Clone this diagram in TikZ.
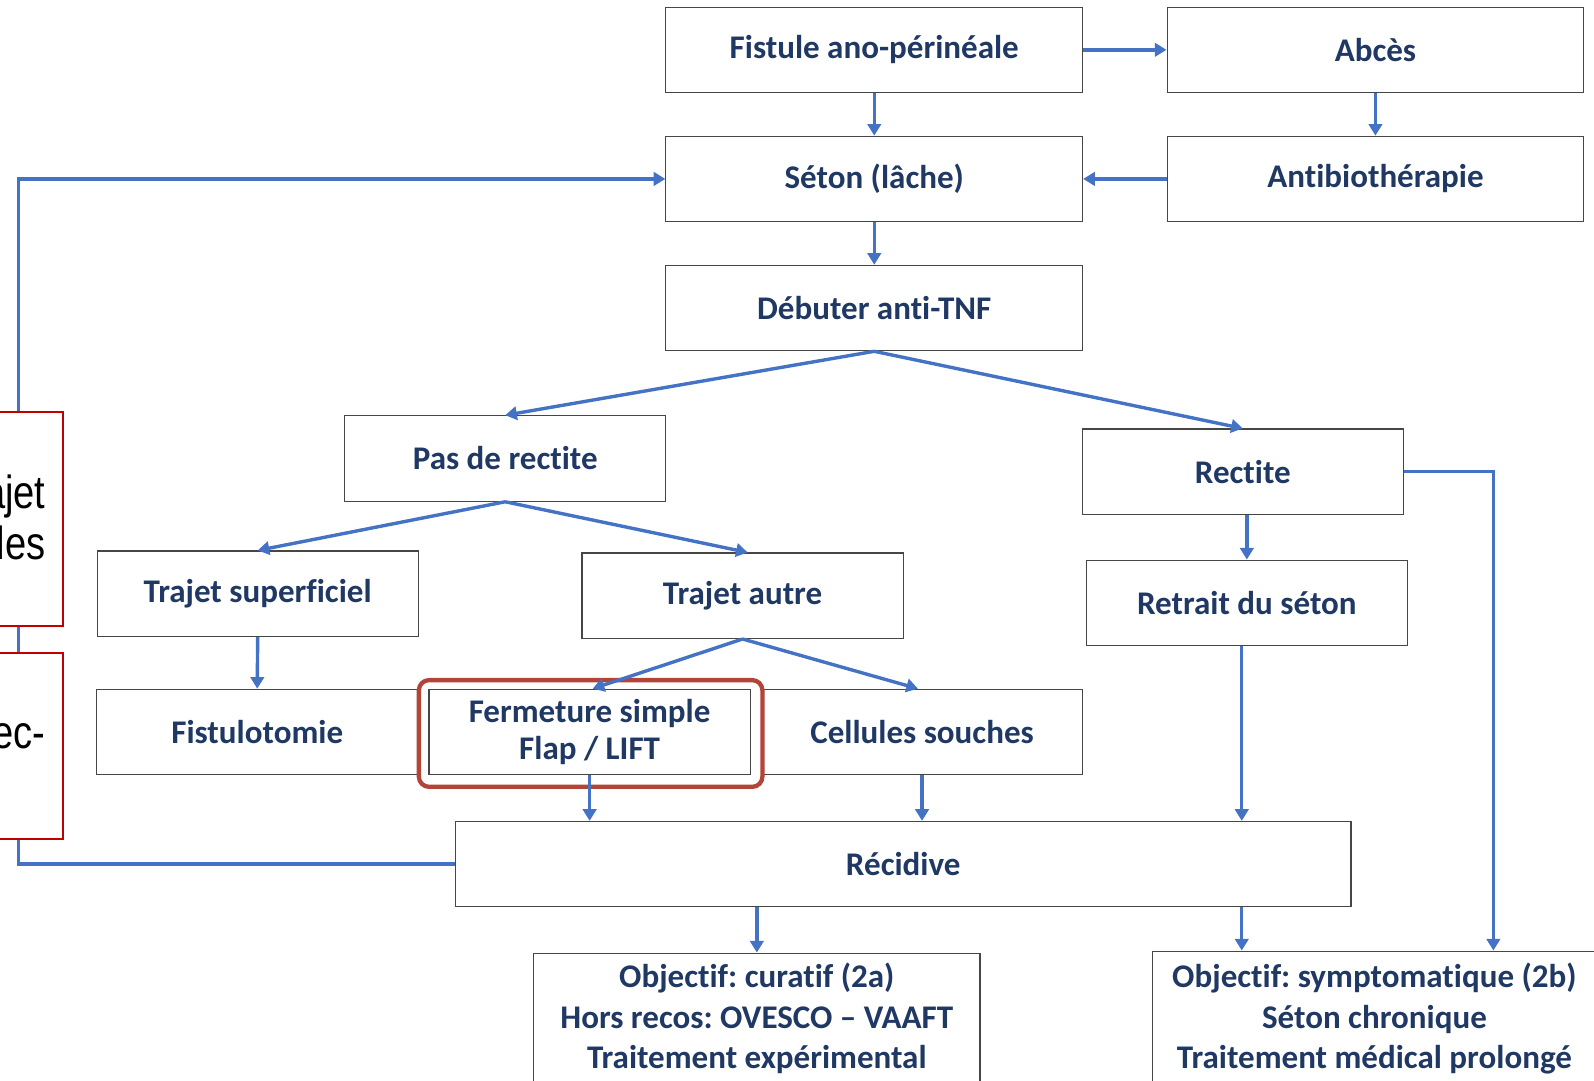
\documentclass[tikz,border=0pt]{standalone}
\usepackage{fontspec}
\setmainfont{Carlito}[Ligatures={NoCommon}]
\newfontfamily\sidefont{Liberation Sans}
\usetikzlibrary{arrows.meta}
\definecolor{arrowblue}{RGB}{68,114,196}
\definecolor{navy}{RGB}{31,56,100}
\definecolor{boxgray}{RGB}{70,70,70}
\definecolor{hlred}{RGB}{178,68,56}
\definecolor{sidered}{RGB}{192,0,0}
\frenchspacing
\tikzset{
  x=0.02cm, y=-0.02cm,
  box/.style={draw=boxgray, line width=0.65pt, fill=white, minimum height=1.68cm, inner sep=0pt,
    text=navy, font=\fontsize{18.5}{22}\selectfont\bfseries, align=center},
  wide/.style={minimum width=8.2cm},
  mid/.style={minimum width=6.32cm},
  conn/.style={draw=arrowblue, line width=1.9pt, -{Triangle[length=6.5pt,width=7.5pt]}},
  hl/.style={draw=hlred, line width=2.4pt, rounded corners=0.2cm, minimum width=6.76cm, minimum height=2.1cm, inner sep=0pt},
  side/.style={draw=sidered, line width=1.3pt, fill=white, inner sep=0pt},
  sidetext/.style={font=\sidefont\fontsize{26}{30}\selectfont, text=black, inner sep=0pt, xscale=0.82},
  objtext/.style={text=navy, font=\fontsize{18.5}{22.6}\selectfont\bfseries, align=center, inner sep=0pt},
}
\begin{document}
\begin{tikzpicture}
\useasboundingbox (0,0) rectangle (1568,1063);
\clip (0,0) rectangle (1568,1063);
% boxes
\node[box, wide] (fist) at (860,49) {Fistule ano-périnéale};
\node[box, wide] (abc) at (1353,49) {Abcès};
\node[box, wide] (seton) at (860,176) {Séton (lâche)};
\node[box, wide] (anti) at (1353,176) {Antibiothérapie};
\node[box, wide] (deb) at (860,303) {Débuter anti-TNF};
\node[box, mid] (pas) at (497,451) {Pas de rectite};
\node[box, mid] (rect) at (1222.5,464) {Rectite};
\node[box, mid] (tsup) at (253.5,584) {Trajet superficiel};
\node[box, mid] (taut) at (730.5,586) {Trajet autre};
\node[box, mid] (ret) at (1226.5,593) {Retrait du séton};
\node[box, mid] (fto) at (253,720) {Fistulotomie};
\node[box, mid] (cell) at (907,720) {Cellules souches};
\node[box, mid] (ferm) at (580,720) {Fermeture simple\\[-1pt]Flap / LIFT};
\node[hl] (hlbox) at (581,721.5) {};
\node[box, minimum width=17.62cm] (rec) at (888.5,850) {Récidive};
\node[box, anchor=north, minimum width=8.78cm, minimum height=4cm] (cur) at (744.5,937) {};
\node[box, anchor=north west, minimum width=8.9cm, minimum height=4cm] (symp) at (1133,935) {};
\node[objtext] (curtxt) at (744.5,1002) {Objectif: curatif (2a)\\Hors recos: OVESCO – VAAFT\\Traitement expérimental};
\node[objtext] (symptxt) at (1352,1002) {Objectif: symptomatique (2b)\\Séton chronique\\Traitement médical prolongé};
% connectors
\draw[conn] (fist.east) -- (abc.west);
\draw[conn] (fist.south) -- (seton.north);
\draw[conn] (abc.south) -- (anti.north);
\draw[conn] (anti.west) -- (seton.east);
\draw[conn] (seton.south) -- (deb.north);
\draw[conn] (deb.south) -- (pas.north);
\draw[conn] (deb.south) -- (rect.north);
\draw[conn] (pas.south) -- (tsup.north);
\draw[conn] (pas.south) -- ([xshift=0.1cm]taut.north);
\draw[conn] (tsup.south) -- (fto.north);
\draw[conn] (taut.south) -- ([xshift=0.06cm]ferm.north);
\draw[conn] (taut.south) -- ([xshift=-0.08cm]cell.north);
\draw[conn] (rect.south -| ret.north) -- (ret.north);
\coordinate (sympin) at (1469,935);
\draw[conn] (rect.east) -| (sympin);
\draw[conn] ([xshift=-0.1cm]ret.south) -- ([xshift=-0.1cm]ret.south |- rec.north);
\draw[conn] (ferm.south) -- (ferm.south |- rec.north);
\draw[conn] (cell.south) -- (cell.south |- rec.north);
\draw[conn] (rec.south -| cur.north) -- (cur.north);
\draw[conn] ([xshift=-0.1cm]rec.south -| ret.south) -- ([xshift=-0.1cm]ret.south |- symp.north);
\coordinate (loopx) at (18,500);
\draw[conn] (rec.west) -| (loopx) |- (seton.west);
% side boxes (partly cut off at the left edge)
\node[side, minimum width=1.66cm, minimum height=4.22cm, anchor=north east] (side1) at (63,404) {};
\node[side, minimum width=1.66cm, minimum height=3.66cm, anchor=north east] (side2) at (63,641) {};
\node[sidetext, anchor=base east] (s1a) at (45,500) {ajet};
\node[sidetext, anchor=base east] (s1b) at (45,550) {les};
\node[sidetext, anchor=base east] (s2a) at (45,736) {ec-};
\end{tikzpicture}
\end{document}
